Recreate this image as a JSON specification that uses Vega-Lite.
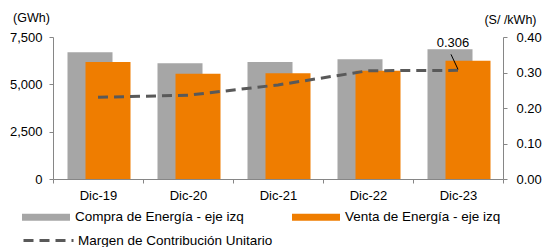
{
  "$schema": "https://vega.github.io/schema/vega-lite/v6.json",
  "width": 450,
  "height": 142,
  "autosize": "none",
  "padding": {"left": 53, "top": 37, "right": 40, "bottom": 68},
  "background": "white",
  "config": {
    "view": {"stroke": null},
    "font": "Liberation Sans",
    "axis": {"labelFont": "Liberation Sans", "labelFontSize": 13, "labelColor": "#000000", "domainColor": "#868686", "tickColor": "#868686", "tickSize": 4, "grid": false, "titleFont": "Liberation Sans", "titleFontSize": 12.5, "titleFontWeight": "normal", "titleColor": "#000000"},
    "legend": {"labelFont": "Liberation Sans", "labelFontSize": 13.5, "labelColor": "#000000", "labelLimit": 400}
  },
  "data": {
    "values": [
      {"periodo": "Dic-19", "compra": 6700, "venta": 6180, "margen": 0.230},
      {"periodo": "Dic-20", "compra": 6110, "venta": 5560, "margen": 0.236},
      {"periodo": "Dic-21", "compra": 6180, "venta": 5580, "margen": 0.265},
      {"periodo": "Dic-22", "compra": 6320, "venta": 5720, "margen": 0.305},
      {"periodo": "Dic-23", "compra": 6850, "venta": 6250, "margen": 0.306}
    ]
  },
  "encoding": {
    "x": {
      "field": "periodo",
      "type": "ordinal",
      "sort": null,
      "scale": {"paddingInner": 0, "paddingOuter": 0},
      "axis": {"title": null, "labelAngle": 0, "tickBand": "extent", "labelPadding": 6}
    }
  },
  "layer": [
    {
      "encoding": {
        "y": {
          "type": "quantitative",
          "scale": {"domain": [0, 7500], "nice": false},
          "axis": {"values": [0, 2500, 5000, 7500], "format": ",.0f", "labelPadding": 7, "title": "(GWh)", "titleAngle": 0, "titleX": -22, "titleY": -20, "titleAlign": "center", "titleBaseline": "middle"}
        }
      },
      "layer": [
        {
          "mark": {"type": "bar", "width": {"band": 0.5}, "xOffset": -8},
          "encoding": {
            "y": {"field": "compra", "type": "quantitative"},
            "color": {
              "datum": "Compra de Energía - eje izq",
              "scale": {"domain": ["Compra de Energía - eje izq", "Venta de Energía - eje izq"], "range": ["#a6a6a6", "#ef7d00"]},
              "legend": {"title": null, "orient": "none", "legendX": -31, "legendY": 156, "direction": "horizontal", "columnPadding": 48, "symbolType": "M-1,-0.15H1V0.15H-1Z", "symbolSize": 2304, "symbolStrokeWidth": 0, "labelOffset": 5}
            }
          }
        },
        {
          "mark": {"type": "bar", "width": {"band": 0.5}, "xOffset": 10},
          "encoding": {
            "y": {"field": "venta", "type": "quantitative"},
            "color": {"datum": "Venta de Energía - eje izq"}
          }
        }
      ]
    },
    {
      "encoding": {
        "y": {
          "type": "quantitative",
          "scale": {"domain": [0, 0.4], "nice": false},
          "axis": {"orient": "right", "values": [0, 0.1, 0.2, 0.3, 0.4], "format": ".2f", "labelPadding": 9, "title": "(S/ /kWh)", "titleAngle": 0, "titleX": 7, "titleY": -18, "titleAlign": "center", "titleBaseline": "middle"}
        }
      },
      "layer": [
        {
          "mark": {"type": "line", "color": "#595959", "strokeWidth": 3},
          "encoding": {
            "y": {"field": "margen", "type": "quantitative"},
            "strokeDash": {
              "datum": "Margen de Contribución Unitario",
              "scale": {"range": [[10, 6]]},
              "legend": {"title": null, "orient": "none", "legendX": -31, "legendY": 177, "symbolType": "stroke", "symbolSize": 2500, "symbolStrokeColor": "#595959", "symbolStrokeWidth": 3, "labelOffset": 3}
            }
          }
        },
        {
          "transform": [{"filter": "datum.periodo == 'Dic-23'"}],
          "mark": {"type": "text", "fontSize": 13, "color": "#000000", "dy": -27, "dx": -5},
          "encoding": {
            "y": {"field": "margen", "type": "quantitative"},
            "text": {"field": "margen", "type": "quantitative", "format": ".3f"}
          }
        },
        {
          "transform": [{"filter": "datum.periodo == 'Dic-23'"}],
          "mark": {"type": "rule", "color": "#000000", "strokeWidth": 1, "yOffset": -1, "y2Offset": -16, "x2Offset": -7},
          "encoding": {
            "y": {"field": "margen", "type": "quantitative"},
            "y2": {"field": "margen"},
            "x2": {"field": "periodo"}
          }
        }
      ]
    }
  ],
  "resolve": {"scale": {"y": "independent"}}
}
